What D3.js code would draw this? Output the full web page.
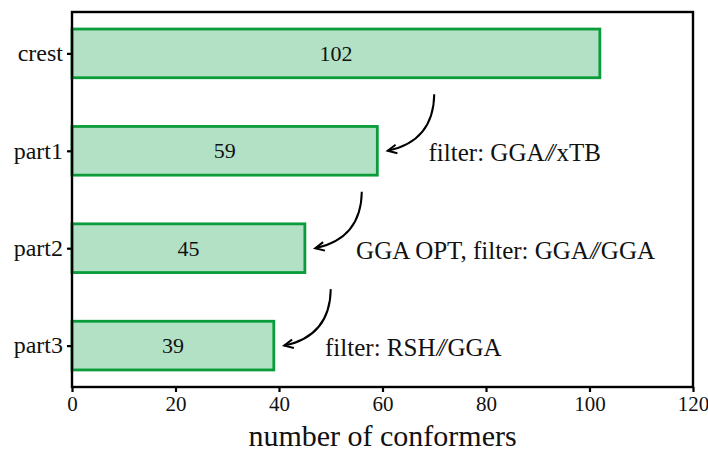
<!DOCTYPE html>
<html>
<head>
<meta charset="utf-8">
<script src="https://cdn.jsdelivr.net/npm/d3@7"></script>
<style>
  html, body { margin: 0; padding: 0; background: #fff; }
  svg { display: block; }
  text { font-family: "Liberation Serif", "DejaVu Serif", serif; fill: #111; }
</style>
</head>
<body>
<svg id="chart" width="708" height="453"></svg>
<script>
// Conformer counts after each refinement step
const stages = ["crest", "part1", "part2", "part3"];
const counts = [102, 59, 45, 39];

// Step descriptions placed between consecutive stages
const stepNotes = [
  ["filter: GGA", "xTB"],
  ["GGA OPT, filter: GGA", "GGA"],
  ["filter: RSH", "GGA"]
];
// x value (in conformers) where each step arrow starts
const stepArrowStartX = [70, 56, 50];

const xTicks = [0, 20, 40, 60, 80, 100, 120];

const W = 708, H = 453;
const margin = { top: 12, right: 15, bottom: 66, left: 72 };
const svg = d3.select("#chart");
const serif = '"Liberation Serif", "DejaVu Serif", serif';

const x = d3.scaleLinear().domain([0, 120]).range([margin.left, W - margin.right]);
// Categorical positions as numbers (0..3) with the usual 5% padding around bars of height 0.5
const barH = 0.5;
const y = d3.scaleLinear().domain([-0.425, 3.425]).range([margin.top, H - margin.bottom]);

const fill = "#b3e1c5", stroke = "#0a9b3a";

// Bars
svg.append("g").selectAll("rect")
  .data(counts)
  .join("rect")
  .attr("x", x(0))
  .attr("y", (d, i) => y(i - barH / 2))
  .attr("width", d => x(d) - x(0))
  .attr("height", y(barH) - y(0))
  .attr("fill", fill)
  .attr("stroke", stroke)
  .attr("stroke-width", 2.8);

// Value labels centred in the bars
svg.append("g").selectAll("text")
  .data(counts)
  .join("text")
  .attr("x", d => x(d / 2))
  .attr("y", (d, i) => y(i))
  .attr("dy", "0.35em")
  .attr("text-anchor", "middle")
  .style("font-family", serif)
  .style("font-size", "22px")
  .text(d => d);

// Axes
const xAxis = d3.axisBottom(x).tickValues(xTicks).tickSize(5).tickPadding(4);
const gx = svg.append("g").attr("transform", `translate(0,${H - margin.bottom})`).call(xAxis);
gx.attr("font-family", null).attr("font-size", null);
gx.select(".domain").remove();
gx.selectAll(".tick line").attr("stroke", "#000").attr("stroke-width", 2.2);
gx.selectAll(".tick text").style("font-size", "21px").attr("fill", "#111")
  .style("font-family", serif);

const yAxis = d3.axisLeft(y).tickValues(d3.range(stages.length)).tickFormat(i => stages[i]).tickSize(5).tickPadding(4);
const gy = svg.append("g").attr("transform", `translate(${margin.left},0)`).call(yAxis);
gy.attr("font-family", null).attr("font-size", null);
gy.select(".domain").remove();
gy.selectAll(".tick line").attr("stroke", "#000").attr("stroke-width", 2.2);
gy.selectAll(".tick text").style("font-size", "24px").attr("fill", "#111")
  .attr("dy", "0.3em")
  .style("font-family", serif);

// Frame
svg.append("rect")
  .attr("x", margin.left).attr("y", margin.top)
  .attr("width", W - margin.left - margin.right)
  .attr("height", H - margin.top - margin.bottom)
  .attr("fill", "none").attr("stroke", "#000").attr("stroke-width", 2.4);

// Axis title
svg.append("text")
  .attr("x", (x(0) + x(120)) / 2)
  .attr("y", 446)
  .attr("text-anchor", "middle")
  .style("font-family", serif)
  .style("font-size", "30px")
  .text("number of conformers");

// Curved arrows (quadratic arc between stages) with open heads
const gArrows = svg.append("g").attr("fill", "none").attr("stroke", "#000").attr("stroke-width", 2);
stepNotes.forEach((note, i) => {
  const x0 = x(stepArrowStartX[i]), y0 = y(i + 0.42);
  const x1 = x(counts[i + 1] + 2), y1 = y(i + 1);
  const rad = -0.4;
  const mx = (x0 + x1) / 2, my = (y0 + y1) / 2;
  const dx = x1 - x0, dy = y1 - y0;
  const cx = mx - rad * dy, cy = my + rad * dx;
  gArrows.append("path").attr("d", `M${x0},${y0} Q${cx},${cy} ${x1},${y1}`);
  // arrow head along the end tangent
  const ang = Math.atan2(y1 - cy, x1 - cx);
  const len = 10, spread = 0.45;
  const p1 = [x1 - len * Math.cos(ang - spread), y1 - len * Math.sin(ang - spread)];
  const p2 = [x1 - len * Math.cos(ang + spread), y1 - len * Math.sin(ang + spread)];
  gArrows.append("path").attr("d", `M${p1[0]},${p1[1]} L${x1},${y1} L${p2[0]},${p2[1]}`)
    .attr("stroke-linejoin", "miter");

  const t = svg.append("text")
    .attr("x", x(stepArrowStartX[i] - 1.1))
    .attr("y", y(i + 1.108))
    .style("font-family", serif)
    .style("font-size", "25px");
  t.append("tspan").text(note[0]);
  t.append("tspan").attr("dx", "1").style("font-style", "italic").attr("letter-spacing", "-4").text("//");
  t.append("tspan").attr("dx", "5").text(note[1]);
});
</script>
</body>
</html>
